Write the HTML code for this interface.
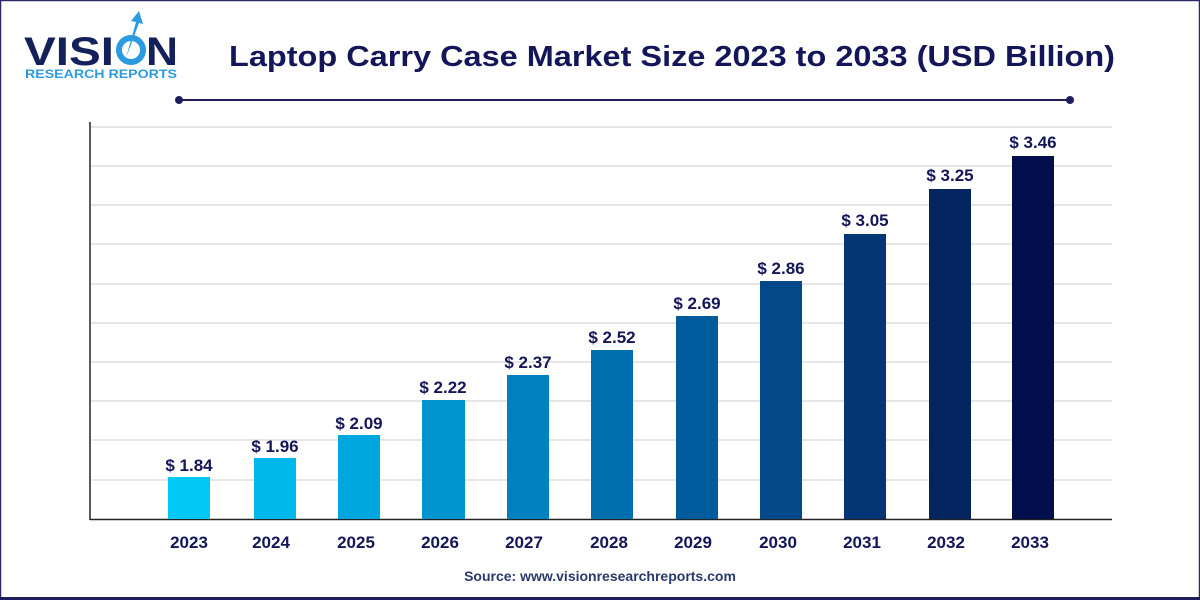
<!DOCTYPE html>
<html><head><style>
body{margin:0;width:1200px;height:600px;background:#fff;font-family:"Liberation Sans",sans-serif;overflow:hidden}
</style></head><body>
<svg width="1200" height="600" xmlns="http://www.w3.org/2000/svg" font-family="Liberation Sans, sans-serif">
<rect x="0" y="0" width="1200" height="600" fill="#fff"/>
<rect x="0.5" y="0.5" width="1199" height="599" fill="none" stroke="#2a2a6a" stroke-width="1.5"/>
<rect x="0" y="597" width="1200" height="3" fill="#1e1e5c"/>
<!-- logo -->
<text x="24" y="65" font-size="40" font-weight="bold" fill="#14205a" textLength="90" lengthAdjust="spacingAndGlyphs">VISI</text>
<circle cx="131" cy="50" r="12" fill="none" stroke="#2a9be0" stroke-width="6"/>
<path d="M126 58 L136 22 L131 21 L139 11 L143 24 L139 23 Z" fill="#2a9be0"/>
<text x="146" y="65" font-size="40" font-weight="bold" fill="#14205a" textLength="32" lengthAdjust="spacingAndGlyphs">N</text>
<text x="25" y="78" font-size="12" font-weight="bold" fill="#2a9be0" textLength="152" lengthAdjust="spacingAndGlyphs">RESEARCH REPORTS</text>
<!-- title -->
<text x="229" y="66" font-size="29" font-weight="bold" fill="#14165a" textLength="886" lengthAdjust="spacingAndGlyphs">Laptop Carry Case Market Size 2023 to 2033 (USD Billion)</text>
<line x1="179" y1="100" x2="1070" y2="100" stroke="#1e1e5c" stroke-width="2"/>
<circle cx="179" cy="100" r="4" fill="#1e1e5c"/><circle cx="1070" cy="100" r="4" fill="#1e1e5c"/>
<!-- grid -->
<g stroke="#e6e6e6" stroke-width="2">
<line x1="91" y1="127" x2="1112" y2="127"/><line x1="91" y1="166" x2="1112" y2="166"/>
<line x1="91" y1="205" x2="1112" y2="205"/><line x1="91" y1="244" x2="1112" y2="244"/>
<line x1="91" y1="284" x2="1112" y2="284"/><line x1="91" y1="323" x2="1112" y2="323"/>
<line x1="91" y1="362" x2="1112" y2="362"/><line x1="91" y1="401" x2="1112" y2="401"/>
<line x1="91" y1="440" x2="1112" y2="440"/><line x1="91" y1="480" x2="1112" y2="480"/>
</g>
<line x1="90" y1="122" x2="90" y2="520" stroke="#222" stroke-width="1.5"/>
<line x1="90" y1="519.5" x2="1112" y2="519.5" stroke="#222" stroke-width="1.5"/>
<g font-size="17" font-weight="bold" fill="#14165a" text-anchor="middle">
<rect x="168" y="477" width="42" height="42" fill="#00c8f5"/><text x="189" y="471">$ 1.84</text><text x="189" y="548">2023</text>
<rect x="254" y="458" width="42" height="61" fill="#00b8ec"/><text x="275" y="452">$ 1.96</text><text x="271" y="548">2024</text>
<rect x="338" y="435" width="42" height="84" fill="#00a6de"/><text x="359" y="429">$ 2.09</text><text x="356" y="548">2025</text>
<rect x="422" y="400" width="43" height="119" fill="#0094cf"/><text x="443" y="393">$ 2.22</text><text x="440" y="548">2026</text>
<rect x="507" y="375" width="42" height="144" fill="#0082c0"/><text x="528" y="368">$ 2.37</text><text x="524" y="548">2027</text>
<rect x="591" y="350" width="42" height="169" fill="#006fae"/><text x="612" y="343">$ 2.52</text><text x="609" y="548">2028</text>
<rect x="676" y="316" width="42" height="203" fill="#005c9d"/><text x="697" y="309">$ 2.69</text><text x="693" y="548">2029</text>
<rect x="760" y="281" width="42" height="238" fill="#03498a"/><text x="781" y="274">$ 2.86</text><text x="778" y="548">2030</text>
<rect x="844" y="234" width="42" height="285" fill="#043676"/><text x="865" y="226">$ 3.05</text><text x="862" y="548">2031</text>
<rect x="929" y="189" width="42" height="330" fill="#03245f"/><text x="950" y="181">$ 3.25</text><text x="946" y="548">2032</text>
<rect x="1012" y="156" width="42" height="363" fill="#020f4c"/><text x="1033" y="148">$ 3.46</text><text x="1030" y="548">2033</text>
</g>
<text x="600" y="581" text-anchor="middle" font-size="14" font-weight="bold" fill="#2a3a6a">Source: www.visionresearchreports.com</text>
</svg>
</body></html>
